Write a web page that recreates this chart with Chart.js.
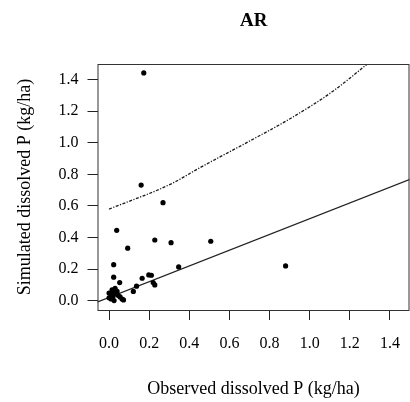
<!DOCTYPE html>
<html>
<head>
<meta charset="utf-8">
<script src="https://cdn.jsdelivr.net/npm/chart.js@4"></script>
<style>
  html, body { margin: 0; padding: 0; background: #fff; }
  #wrap { width: 410px; height: 402px; }
</style>
</head>
<body>
<div id="wrap"><canvas id="chart"></canvas></div>
<script>
// --- Datos ---
const chartTitle = "AR";
const xTitle = "Observed dissolved P (kg/ha)";
const yTitle = "Simulated dissolved P (kg/ha)";

const xTicks = [0, 0.2, 0.4, 0.6, 0.8, 1.0, 1.2, 1.4];
const yTicks = [0, 0.2, 0.4, 0.6, 0.8, 1.0, 1.2, 1.4];
const axisMin = -0.0576;
const axisMax = 1.4976;

// observado vs simulado
const observed = [0.173, 0.160, 0.269, 0.038, 0.228, 0.309, 0.507, 0.093, 0.347, 0.880,
  0.023, 0.023, 0.053, 0.165, 0.198, 0.211, 0.220, 0.228, 0.137, 0.121,
  0.000, 0.010, 0.020, 0.020, 0.030, 0.030, 0.010, 0.045, 0.055, 0.065,
  0.072, 0.000, 0.015, 0.025, 0.040];
const simulated = [1.441, 0.732, 0.621, 0.446, 0.385, 0.368, 0.377, 0.333, 0.215, 0.221,
  0.229, 0.150, 0.116, 0.143, 0.164, 0.162, 0.116, 0.101, 0.093, 0.060,
  0.020, 0.040, 0.030, 0.060, 0.050, 0.080, 0.012, 0.035, 0.025, 0.012,
  0.006, 0.050, 0.070, 0.002, 0.060];

// recta ajustada
const fitX = [-0.06, 1.5];
const fitY = [-0.008, 0.769];

// banda superior (discontinua)
const upperX = [0, 0.31, 0.45, 0.70, 0.90, 1.11, 1.29, 1.5];
const upperY = [0.58, 0.74, 0.84, 1.01, 1.15, 1.32, 1.50, 1.71];

const toPoints = (xs, ys) => xs.map((x, i) => ({ x: x, y: ys[i] }));

// --- Caja y título ---
const boxPlugin = {
  id: "box",
  afterDraw(chart) {
    const { ctx, chartArea: a } = chart;
    ctx.save();
    ctx.strokeStyle = "#333";
    ctx.lineWidth = 1;
    ctx.strokeRect(a.left + 0.5, a.top + 0.5, a.right - a.left - 1, a.bottom - a.top);
    ctx.fillStyle = "#000";
    ctx.font = "bold 19px 'Liberation Serif'";
    ctx.textAlign = "center";
    ctx.textBaseline = "middle";
    ctx.fillText(chartTitle, (a.left + 410) / 2, 21);
    ctx.restore();
  }
};

const serif = "'Liberation Serif', 'Times New Roman', serif";

new Chart(document.getElementById("chart"), {
  type: "scatter",
  data: {
    datasets: [
      {
        label: "puntos",
        data: toPoints(observed, simulated),
        pointRadius: 2.6,
        pointBackgroundColor: "#000",
        pointBorderWidth: 0,
        showLine: false
      },
      {
        label: "ajuste",
        data: toPoints(fitX, fitY),
        showLine: true,
        pointRadius: 0,
        borderColor: "#222",
        borderWidth: 1.2
      },
      {
        label: "superior",
        data: toPoints(upperX, upperY),
        showLine: true,
        pointRadius: 0,
        borderColor: "#1a1a1a",
        borderWidth: 1.3,
        borderDash: [3, 1.5, 1.2, 1.5],
        cubicInterpolationMode: "monotone"
      }
    ]
  },
  options: {
    responsive: true,
    maintainAspectRatio: false,
    animation: false,
    layout: { autoPadding: false, padding: { top: 64, right: 0.5, bottom: 0, left: 0 } },
    plugins: { legend: { display: false }, tooltip: { enabled: false } },
    scales: {
      x: {
        type: "linear",
        min: axisMin,
        max: axisMax,
        afterBuildTicks: s => { s.ticks = xTicks.map(v => ({ value: v })); },
        afterFit: s => { s.height = 92; s.paddingRight = 0; s.paddingLeft = 0; },
        border: { display: false },
        grid: { drawOnChartArea: false, drawTicks: true, tickLength: 10, color: "#222" },
        ticks: {
          color: "#000",
          font: { family: serif, size: 16 },
          padding: 14,
          maxRotation: 0,
          callback: v => v.toFixed(1)
        },
        title: {
          display: true,
          text: xTitle,
          color: "#000",
          font: { family: serif, size: 18 },
          padding: { top: 0, bottom: 2 }
        }
      },
      y: {
        type: "linear",
        min: axisMin,
        max: axisMax,
        afterBuildTicks: s => { s.ticks = yTicks.map(v => ({ value: v })); },
        afterFit: s => { s.width = 97.5; s.paddingTop = 0; s.paddingBottom = 0; },
        border: { display: false },
        grid: { drawOnChartArea: false, drawTicks: true, tickLength: 10, color: "#222" },
        ticks: {
          color: "#000",
          font: { family: serif, size: 16 },
          padding: 9,
          callback: v => v.toFixed(1)
        },
        title: {
          display: true,
          text: yTitle,
          color: "#000",
          font: { family: serif, size: 18 },
          padding: { top: 14, bottom: 0 }
        }
      }
    }
  },
  plugins: [boxPlugin]
});
</script>
</body>
</html>
